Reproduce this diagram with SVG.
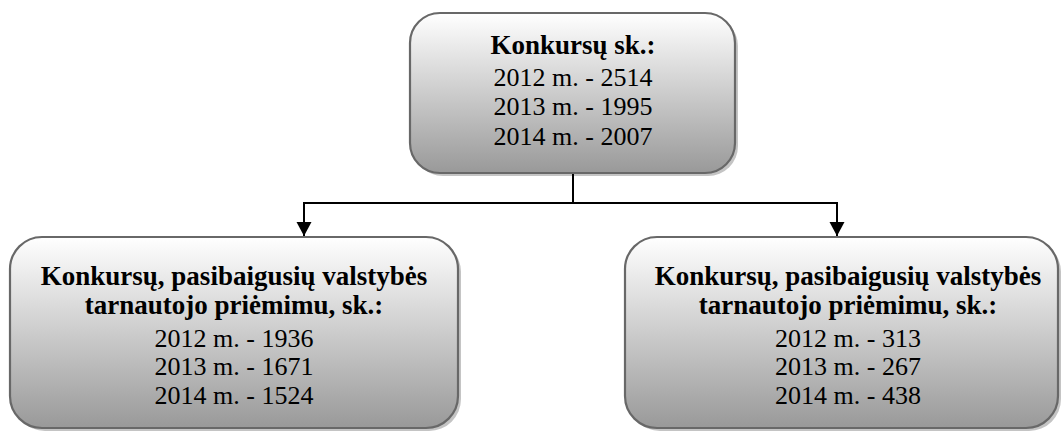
<svg xmlns="http://www.w3.org/2000/svg" width="1062" height="432" viewBox="0 0 1062 432">
<defs>
<linearGradient id="g" x1="0" y1="0" x2="0" y2="1">
<stop offset="0" stop-color="#ffffff"/>
<stop offset="1" stop-color="#999999"/>
</linearGradient>
<marker id="ah" markerWidth="16" markerHeight="16" refX="14" refY="8" orient="auto" markerUnits="userSpaceOnUse" viewBox="0 0 16 16">
<path d="M0,0.5 L14,8 L0,15.5 Z" fill="#000"/>
</marker>
</defs>
<style>
.box{fill:url(#g);stroke:#686868;stroke-width:2.2}
.sh{fill:#c4c4c4}
text{font-family:"Liberation Serif","Times New Roman",serif;font-size:26px;fill:#000;text-anchor:middle}
.b{font-weight:bold;font-size:27px}
.c{fill:none;stroke:#000;stroke-width:2}
</style>
<g id="top">
<rect class="sh" x="413" y="16" width="325" height="160" rx="30"/>
<rect class="box" x="410" y="13" width="325" height="160" rx="30"/>
<text class="b" x="573" y="54">Konkursų sk.:</text>
<text x="573" y="86">2012 m. - 2514</text>
<text x="573" y="115">2013 m. - 1995</text>
<text x="573" y="145">2014 m. - 2007</text>
</g>
<g id="left">
<rect class="sh" x="13" y="240" width="448" height="191" rx="32"/>
<rect class="box" x="10" y="237" width="448" height="191" rx="32"/>
<text class="b" x="234" y="285">Konkursų, pasibaigusių valstybės</text>
<text class="b" x="234" y="314">tarnautojo priėmimu, sk.:</text>
<text x="234" y="347">2012 m. - 1936</text>
<text x="234" y="375">2013 m. - 1671</text>
<text x="234" y="404">2014 m. - 1524</text>
</g>
<g id="right">
<rect class="sh" x="628" y="240" width="433" height="191" rx="32"/>
<rect class="box" x="625" y="237" width="433" height="191" rx="32"/>
<text class="b" x="848" y="285">Konkursų, pasibaigusių valstybės</text>
<text class="b" x="848" y="314">tarnautojo priėmimu, sk.:</text>
<text x="848" y="347">2012 m. - 313</text>
<text x="848" y="375">2013 m. - 267</text>
<text x="848" y="404">2014 m. - 438</text>
</g>
<g id="connectors">
<path class="c" d="M573,174 V203"/>
<path class="c" d="M574,203 H304 V236" marker-end="url(#ah)"/>
<path class="c" d="M572,203 H837 V236" marker-end="url(#ah)"/>
</g>
</svg>
